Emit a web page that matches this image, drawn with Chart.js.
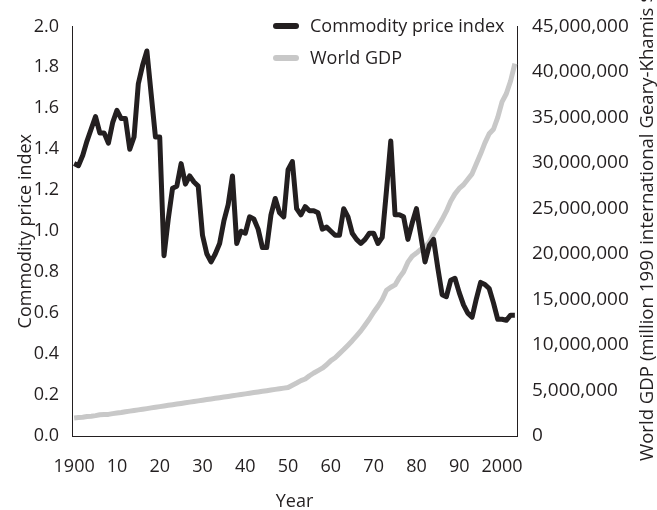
<!DOCTYPE html>
<html>
<head>
<meta charset="utf-8">
<script src="https://cdn.jsdelivr.net/npm/chart.js@4.4.0/dist/chart.umd.min.js"></script>
<style>
  html, body { margin: 0; padding: 0; background: #fff; }
  #wrap { width: 657px; height: 510px; }
</style>
</head>
<body>
<div id="wrap"><canvas id="chart" width="657" height="510"></canvas></div>
<script>
const firstYear = 1900;

// commodity price index, one value per year 1900-2003
const commodityIndex = [
  1.33, 1.32, 1.37, 1.44, 1.50, 1.56, 1.48, 1.48, 1.43, 1.53,
  1.59, 1.55, 1.55, 1.40, 1.46, 1.72, 1.81, 1.88, 1.67, 1.46,
  1.46, 0.88, 1.06, 1.21, 1.22, 1.33, 1.23, 1.27, 1.24, 1.22,
  0.98, 0.89, 0.85, 0.89, 0.94, 1.05, 1.13, 1.27, 0.94, 1.00,
  0.99, 1.07, 1.06, 1.01, 0.92, 0.92, 1.08, 1.16, 1.09, 1.07,
  1.30, 1.34, 1.11, 1.08, 1.12, 1.10, 1.10, 1.09, 1.01, 1.02,
  1.00, 0.98, 0.98, 1.11, 1.07, 0.99, 0.96, 0.94, 0.96, 0.99,
  0.99, 0.94, 0.97, 1.20, 1.44, 1.08, 1.08, 1.07, 0.96, 1.04,
  1.11, 0.98, 0.85, 0.93, 0.96, 0.82, 0.69, 0.68, 0.76, 0.77,
  0.70, 0.64, 0.60, 0.58, 0.67, 0.75, 0.74, 0.72, 0.65, 0.57,
  0.57, 0.565, 0.59, 0.59
];

// world GDP, million 1990 international Geary-Khamis $, 1900-2003
const worldGdp = [
  1973000, 2025000, 2058000, 2140000, 2170000, 2236000, 2330000, 2370000, 2375000, 2460000,
  2515000, 2575000, 2665000, 2733000, 2800000, 2870000, 2940000, 3010000, 3090000, 3160000,
  3230000, 3300000, 3370000, 3440000, 3510000, 3580000, 3650000, 3720000, 3790000, 3860000,
  3930000, 4000000, 4070000, 4140000, 4210000, 4280000, 4350000, 4420000, 4490000, 4560000,
  4630000, 4700000, 4770000, 4840000, 4910000, 4980000, 5050000, 5120000, 5190000, 5260000,
  5336000, 5580000, 5820000, 6080000, 6260000, 6620000, 6920000, 7180000, 7450000, 7820000,
  8280000, 8600000, 9050000, 9500000, 9980000, 10470000, 11000000, 11550000, 12200000, 12850000,
  13600000, 14250000, 15000000, 16020000, 16350000, 16600000, 17400000, 18050000, 19100000, 19750000,
  20100000, 20500000, 20750000, 21300000, 22200000, 23000000, 23800000, 24700000, 25800000, 26600000,
  27200000, 27600000, 28200000, 28800000, 29900000, 31000000, 32200000, 33200000, 33700000, 35000000,
  36700000, 37600000, 39000000, 40900000
];

const years = commodityIndex.map((_, i) => firstYear + i);
const decadeLabels = ["1900", "10", "20", "30", "40", "50", "60", "70", "80", "90", "2000"];

const ink = "#231f20";
const grey = "#c8c8c8";
const rightTitle = "World GDP (million 1990 international Geary-Khamis $)";

Chart.defaults.font.family = '"Open Sans", sans-serif';
Chart.defaults.font.size = 18;
Chart.defaults.color = ink;

// legend stacked top right + right axis title reading upwards
const extras = {
  id: "extras",
  afterDraw(chart) {
    const ctx = chart.ctx;
    ctx.save();
    ctx.font = '18px "Open Sans", sans-serif';
    ctx.textBaseline = "middle";
    ctx.lineCap = "round";
    chart.data.datasets.forEach((ds, i) => {
      const y = 26 + i * 32;
      ctx.strokeStyle = ds.borderColor;
      ctx.lineWidth = 6;
      ctx.beginPath();
      ctx.moveTo(276, y);
      ctx.lineTo(296, y);
      ctx.stroke();
      ctx.fillStyle = ink;
      ctx.fillText(ds.label, 310, y + 1);
    });

    ctx.font = '18.6px "Open Sans", sans-serif';
    ctx.translate(653, 461);
    ctx.rotate(-Math.PI / 2);
    ctx.textAlign = "left";
    ctx.textBaseline = "alphabetic";
    ctx.fillText(rightTitle, 0, 0);
    ctx.restore();
  }
};

new Chart(document.getElementById("chart"), {
  type: "line",
  data: {
    labels: years,
    datasets: [{
      label: "Commodity price index",
      data: commodityIndex,
      yAxisID: "y",
      borderColor: ink,
      borderWidth: 5,
      borderJoinStyle: "round",
      pointRadius: 0,
      tension: 0
    }, {
      label: "World GDP",
      data: worldGdp,
      yAxisID: "y1",
      borderColor: grey,
      borderWidth: 5,
      borderJoinStyle: "round",
      pointRadius: 0,
      tension: 0
    }]
  },
  options: {
    responsive: false,
    animation: false,
    layout: { padding: { top: 26 } },
    plugins: {
      legend: { display: false },
      tooltip: { enabled: false }
    },
    scales: {
      x: {
        type: "category",
        offset: true,
        grid: { display: false, drawTicks: false },
        border: { display: true, color: ink, width: 1 },
        ticks: {
          autoSkip: false,
          maxRotation: 0,
          padding: 20,
          callback(v, i) {
            const yr = years[i];
            return yr % 10 === 0 ? decadeLabels[(yr - firstYear) / 10] : "";
          }
        },
        title: { display: true, text: "Year", padding: { top: 0, bottom: -3 } },
        afterFit(s) { s.height = 74; }
      },
      y: {
        position: "left",
        min: 0,
        max: 2,
        grid: { display: false, drawTicks: false },
        border: { display: true, color: ink, width: 1 },
        ticks: { stepSize: 0.2, padding: 13, callback: v => v.toFixed(1) },
        title: { display: true, text: "Commodity price index", padding: { top: 15, bottom: 0 } },
        afterFit(s) { s.width = 72; }
      },
      y1: {
        position: "right",
        min: 0,
        max: 45000000,
        grid: { display: false, drawTicks: false },
        border: { display: true, color: ink, width: 1 },
        ticks: { stepSize: 5000000, padding: 15, font: { size: 19 }, callback: v => v.toLocaleString("en-US") },
        afterFit(s) { s.width = 140; }
      }
    }
  },
  plugins: [extras]
});
</script>
</body>
</html>
